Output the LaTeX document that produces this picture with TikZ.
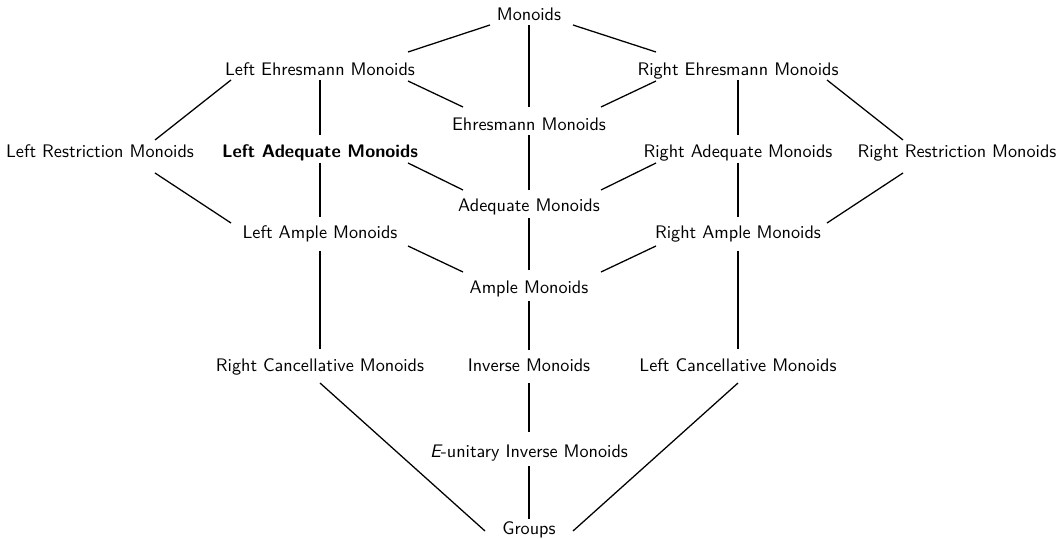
\documentclass[tikz,border=0pt]{standalone}
\usetikzlibrary{calc}
\begin{document}
\begin{tikzpicture}[x=0.55pt,y=-0.55pt,
  lbl/.style={font=\sffamily, inner sep=0pt, anchor=base},
  edge/.style={line width=0.7pt}]
\useasboundingbox (0,0) rectangle (1059,539);
\node[lbl] (M) at (529,21) {Monoids};
\node[lbl] (LE) at (320,76) {Left Ehresmann Monoids};
\node[lbl] (RE) at (738,76) {Right Ehresmann Monoids};
\node[lbl] (E) at (529,131) {Ehresmann Monoids};
\node[lbl] (LR) at (100,158) {Left Restriction Monoids};
\node[lbl] (LA) at (320,158) {\bfseries Left Adequate Monoids};
\node[lbl] (RA) at (738,158) {Right Adequate Monoids};
\node[lbl] (RR) at (957,158) {Right Restriction Monoids};
\node[lbl] (A) at (529,212) {Adequate Monoids};
\node[lbl] (LAm) at (320,239) {Left Ample Monoids};
\node[lbl] (RAm) at (738,239) {Right Ample Monoids};
\node[lbl] (Am) at (529,294) {Ample Monoids};
\node[lbl] (RC) at (320,372) {Right Cancellative Monoids};
\node[lbl] (I) at (529,372) {Inverse Monoids};
\node[lbl] (LC) at (738,372) {Left Cancellative Monoids};
\node[lbl] (EU) at (529,458) {{\itshape E}-unitary Inverse Monoids};
\node[lbl] (G) at (529,535) {Groups};
\draw[edge] ($(M.base)+(-39,4)$) -- ($(LE.base)+(88,-24)$);
\draw[edge] ($(M.base)+(0,4)$) -- ($(E.base)+(0,-24)$);
\draw[edge] ($(M.base)+(44,4)$) -- ($(RE.base)+(-82,-24)$);
\draw[edge] ($(LE.base)+(-89,4)$) -- ($(LR.base)+(55,-18)$);
\draw[edge] ($(LE.base)+(0,4)$) -- ($(LA.base)+(0,-23)$);
\draw[edge] ($(LE.base)+(88,5)$) -- ($(E.base)+(-66,-24)$);
\draw[edge] ($(RE.base)+(-82,5)$) -- ($(E.base)+(72,-24)$);
\draw[edge] ($(RE.base)+(0,4)$) -- ($(RA.base)+(0,-23)$);
\draw[edge] ($(RE.base)+(89,4)$) -- ($(RR.base)+(-54,-18)$);
\draw[edge] ($(E.base)+(0,4)$) -- ($(A.base)+(0,-22)$);
\draw[edge] ($(LR.base)+(55,15)$) -- ($(LAm.base)+(-89,-16)$);
\draw[edge] ($(LA.base)+(0,5)$) -- ($(LAm.base)+(0,-22)$);
\draw[edge] ($(LA.base)+(88,5)$) -- ($(A.base)+(-66,-22)$);
\draw[edge] ($(RA.base)+(-82,5)$) -- ($(A.base)+(72,-22)$);
\draw[edge] ($(RA.base)+(0,5)$) -- ($(RAm.base)+(0,-22)$);
\draw[edge] ($(RR.base)+(-54,15)$) -- ($(RAm.base)+(89,-16)$);
\draw[edge] ($(A.base)+(0,6)$) -- ($(Am.base)+(0,-24)$);
\draw[edge] ($(LAm.base)+(88,7)$) -- ($(Am.base)+(-66,-22)$);
\draw[edge] ($(RAm.base)+(-82,7)$) -- ($(Am.base)+(72,-22)$);
\draw[edge] ($(LAm.base)+(0,12)$) -- ($(RC.base)+(0,-23)$);
\draw[edge] ($(RAm.base)+(0,12)$) -- ($(LC.base)+(0,-23)$);
\draw[edge] ($(Am.base)+(0,7)$) -- ($(I.base)+(0,-22)$);
\draw[edge] ($(I.base)+(0,11)$) -- ($(EU.base)+(0,-26)$);
\draw[edge] ($(EU.base)+(0,8)$) -- ($(G.base)+(0,-16)$);
\draw[edge] ($(RC.base)+(0,11)$) -- ($(G.base)+(-44,-4)$);
\draw[edge] ($(LC.base)+(0,11)$) -- ($(G.base)+(44,-4)$);
\end{tikzpicture}
\end{document}
